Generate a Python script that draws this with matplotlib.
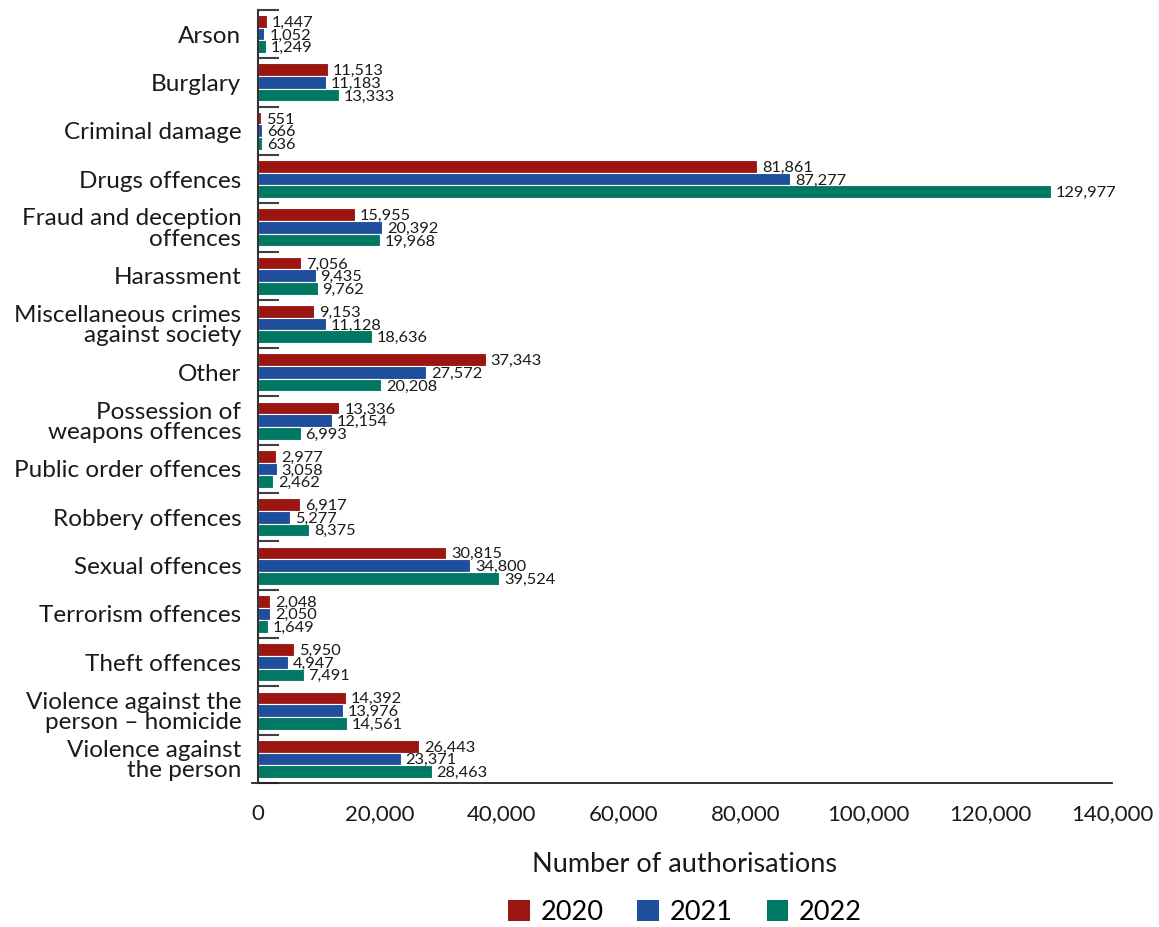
import numpy as np
import matplotlib
matplotlib.use("Agg")
import matplotlib.pyplot as plt
import matplotlib.patches as mpatches

plt.rcParams['font.family'] = ['Lato', 'DejaVu Sans']

categories = [
    "Arson",
    "Burglary",
    "Criminal damage",
    "Drugs offences",
    "Fraud and deception\noffences",
    "Harassment",
    "Miscellaneous crimes\nagainst society",
    "Other",
    "Possession of\nweapons offences",
    "Public order offences",
    "Robbery offences",
    "Sexual offences",
    "Terrorism offences",
    "Theft offences",
    "Violence against the\nperson \u2013 homicide",
    "Violence against\nthe person",
]

years = ["2020", "2021", "2022"]

values_2020 = [1447, 11513, 551, 81861, 15955, 7056, 9153, 37343, 13336, 2977,
               6917, 30815, 2048, 5950, 14392, 26443]
values_2021 = [1052, 11183, 666, 87277, 20392, 9435, 11128, 27572, 12154, 3058,
               5277, 34800, 2050, 4947, 13976, 23371]
values_2022 = [1249, 13333, 636, 129977, 19968, 9762, 18636, 20208, 6993, 2462,
               8375, 39524, 1649, 7491, 14561, 28463]

colors = ["#9b1511", "#1f4e9c", "#007864"]

fig = plt.figure(figsize=(11.59, 9.27), dpi=100)
ax = fig.add_axes([0.2226, 0.1553, 0.7368, 0.834])

y = np.arange(len(categories))
bar_h = 0.262
series = [values_2020, values_2021, values_2022]
for i, (vals, col) in enumerate(zip(series, colors)):
    pos = y + (i - 1) * bar_h
    ax.barh(pos, vals, height=bar_h, color=col, edgecolor="white", linewidth=0.8)
    for p, v in zip(pos, vals):
        ax.text(v + 800, p + 0.03, f"{v:,}", va="center", ha="left", fontsize=11.8,
                color="#1a1a1a")

ax.set_xlim(0, 140000)
ax.set_ylim(len(categories) - 0.5, -0.5)

ax.set_yticks(y)
ax.set_yticklabels(categories, fontsize=17.5, linespacing=0.95, color="#1a1a1a")
ax.tick_params(axis="y", which="major", length=0, pad=12)
ax.set_yticks(np.arange(len(categories) + 1) - 0.5, minor=True)
ax.tick_params(axis="y", which="minor", direction="in", length=15, width=1.5,
               color="#404040")

xt = np.arange(0, 140001, 20000)
ax.set_xticks(xt)
ax.set_xticklabels([f"{v:,}" for v in xt], fontsize=16, color="#1a1a1a")
ax.tick_params(axis="x", length=0, pad=15)
ax.set_xlabel("Number of authorisations", fontsize=19.5, labelpad=20, color="#1a1a1a")

for side in ["top", "right"]:
    ax.spines[side].set_visible(False)
ax.spines["left"].set_color("#333333")
ax.spines["left"].set_linewidth(1.5)
ax.spines["bottom"].set_visible(False)
ax.plot([-0.007, 1], [0, 0], transform=ax.transAxes, color="#222222", lw=1.3,
        clip_on=False)

handles = [mpatches.Patch(facecolor=c, label=yr) for c, yr in zip(colors, years)]
fig.legend(handles=handles, loc="center", bbox_to_anchor=(0.591, 0.016), ncol=3,
           frameon=False, fontsize=19.5, handlelength=0.8, handleheight=0.8,
           handletextpad=0.4, columnspacing=1.25)

fig.savefig("out.png", dpi=100)
